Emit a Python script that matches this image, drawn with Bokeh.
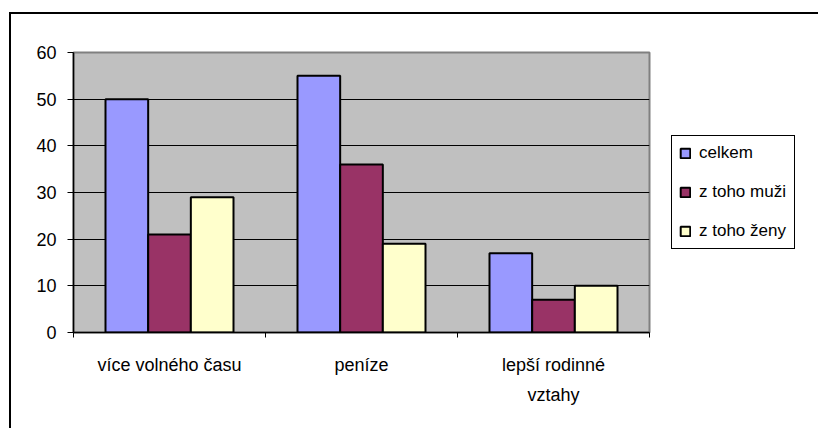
import numpy as np
from bokeh.plotting import figure
from bokeh.models import (ColumnDataSource, Range1d, FixedTicker, LinearAxis,
                          Legend, LegendItem, Grid)
from bokeh.transform import dodge
from bokeh.embed import file_html
from bokeh.resources import INLINE

categories = ["více volného času", "peníze", "lepší rodinné\nvztahy"]
series_names = ["celkem", "z toho muži", "z toho ženy"]
celkem = [50, 55, 17]
muzi = [21, 36, 7]
zeny = [29, 19, 10]
y_ticks = [0, 10, 20, 30, 40, 50, 60]

colors = ["#9999FF", "#993366", "#FFFFCC"]
FONT = "Liberation Sans"
FS = "18px"

centers = [i + 0.5 for i in range(len(categories))]
src = ColumnDataSource(dict(x=centers, celkem=celkem, muzi=muzi, zeny=zeny))

p = figure(frame_width=576, frame_height=280, output_backend="svg", toolbar_location=None,
           x_range=Range1d(0, len(categories)), y_range=Range1d(0, 60),
           x_axis_type=None, y_axis_type=None,
           min_border_left=62, min_border_right=0, min_border_top=38,
           min_border_bottom=96)
p.styles = {"margin-left": "9px", "margin-top": "12px",
            "border-top": "2px solid black", "border-left": "2px solid black"}

p.background_fill_color = "#C0C0C0"
p.border_fill_color = "white"
p.outline_line_color = "#808080"
p.outline_line_width = 2

bw = 1 / 4.5
renderers = []
for i, (field, col) in enumerate(zip(["celkem", "muzi", "zeny"], colors)):
    r = p.vbar(x=dodge("x", (i - 1) * bw, range=p.x_range), top=field, width=bw,
               source=src, fill_color=col, line_color="black", line_width=2)
    renderers.append(r)

# y axis
yax = LinearAxis(ticker=FixedTicker(ticks=y_ticks))
yax.axis_line_color = "black"
yax.axis_line_width = 1.5
yax.major_tick_in = 0
yax.major_tick_out = 6
yax.major_tick_line_color = "black"
yax.minor_tick_line_color = None
yax.major_label_standoff = 11
yax.major_label_text_font = FONT
yax.major_label_text_font_size = FS
yax.major_label_text_color = "black"
p.add_layout(yax, "left")

# x axis: labels at category centers, ticks at category boundaries
xax = LinearAxis(ticker=FixedTicker(ticks=centers,
                                    minor_ticks=list(range(len(categories) + 1))))
xax.major_label_overrides = {c: lab for c, lab in zip(centers, categories)}
xax.axis_line_color = "black"
xax.axis_line_width = 1.5
xax.major_tick_line_color = None
xax.minor_tick_line_color = "black"
xax.minor_tick_in = 0
xax.minor_tick_out = 5
xax.major_label_standoff = 16
xax.major_label_text_font = FONT
xax.major_label_text_font_size = FS
xax.major_label_text_color = "black"
xax.major_label_text_line_height = 1.5
p.add_layout(xax, "below")

g = Grid(dimension=1, ticker=FixedTicker(ticks=y_ticks))
g.grid_line_color = "black"
g.grid_line_width = 1
p.add_layout(g)

legend = Legend(items=[LegendItem(label=n, renderers=[r]) for n, r in zip(series_names, renderers)],
                location="center_left")
legend.border_line_color = "black"
legend.border_line_alpha = 1
legend.border_line_width = 1
legend.background_fill_color = "white"
legend.background_fill_alpha = 1
legend.label_text_font = FONT
legend.label_text_font_size = "17px"
legend.label_text_color = "black"
legend.glyph_width = 12
legend.glyph_height = 12
legend.label_height = 20
legend.label_width = 88
legend.spacing = 19
legend.padding = 7
legend.margin = 22
legend.label_standoff = 8
p.add_layout(legend, "right")

open("out.html", "w").write(file_html(p, INLINE))
